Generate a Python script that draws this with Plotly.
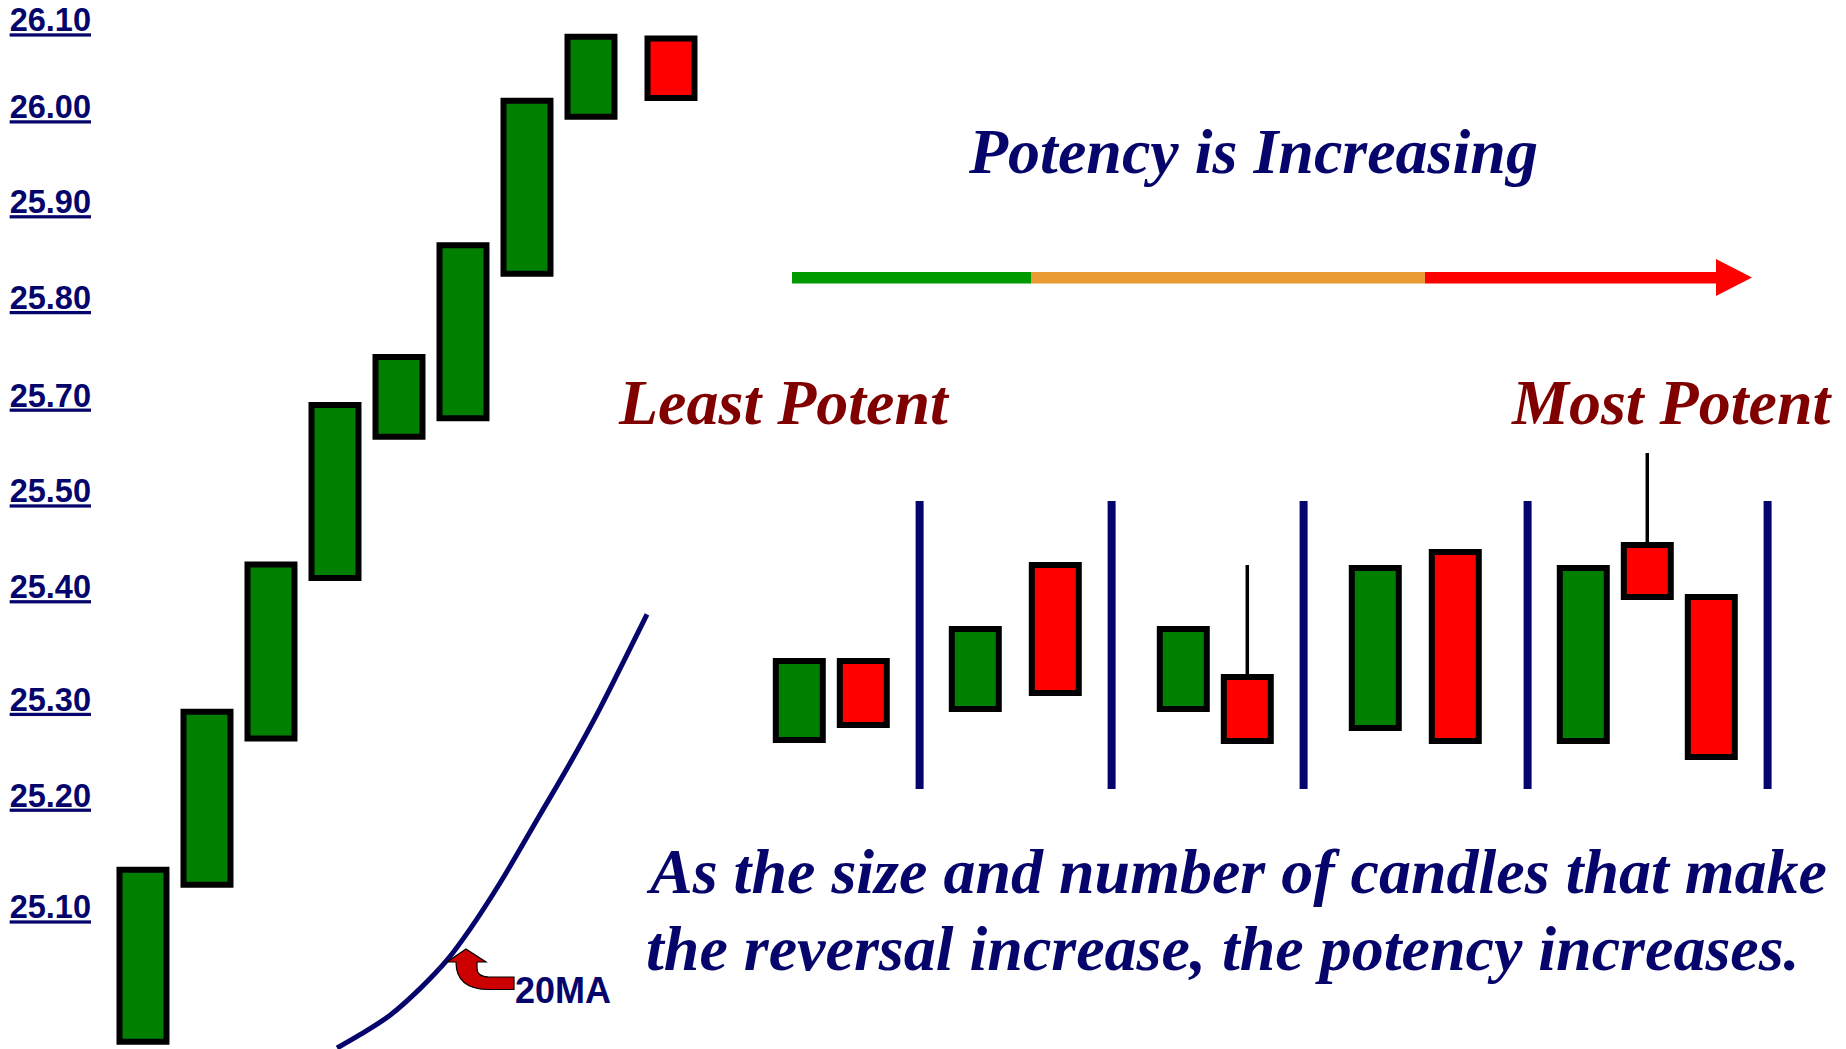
import plotly.graph_objects as go

W, H = 1846, 1049
NAVY = "#05056b"
DARKRED = "#800000"
GREEN = "#007f00"
RED = "#ff0000"

# ---------------- data: left up-trend chart ----------------
trend_x = [1, 2, 3, 4, 5, 6, 7, 8, 9.25]
trend_open = [24.948, 25.125, 25.290, 25.471, 25.630, 25.651, 25.814, 25.991, 26.079]
trend_close = [25.142, 25.320, 25.486, 25.666, 25.720, 25.846, 26.009, 26.081, 26.012]

price_tick_pos = [26.100, 26.002, 25.895, 25.787, 25.677, 25.569, 25.461, 25.334, 25.226, 25.100]
price_tick_text = ["26.10", "26.00", "25.90", "25.80", "25.70", "25.50", "25.40", "25.30", "25.20", "25.10"]

ma_x = [4.032, 4.391, 4.860, 5.329, 5.750, 6.110, 6.578, 7.203, 7.672, 8.141, 8.532, 8.875]
ma_y = [24.941, 24.956, 24.978, 25.008, 25.040, 25.075, 25.127, 25.204, 25.262, 25.324, 25.380, 25.430]

# ---------------- data: reversal examples ----------------
ex_x = [0, 1, 2.75, 4.0, 6.0, 7.0, 9.0, 10.25, 12.25, 13.25, 14.25]
ex_open = [3.09, 3.88, 3.40, 4.84, 3.40, 3.72, 3.21, 4.97, 3.08, 5.04, 4.52]
ex_close = [3.88, 3.24, 4.20, 3.56, 4.20, 3.08, 4.81, 3.08, 4.81, 4.52, 2.92]
ex_high = [3.88, 3.88, 4.20, 4.84, 4.20, 4.84, 4.81, 4.97, 4.81, 5.96, 4.52]

separator_x = [1.88, 4.88, 7.88, 11.38, 15.13]
separator_low, separator_high = 2.60, 5.48


def fill_colors(opens, closes):
    return [GREEN if c >= o else RED for o, c in zip(opens, closes)]


def px(x):
    return x / W


def py(y):
    return 1 - y / H


fig = go.Figure()

# left candles
fig.add_trace(go.Bar(
    x=trend_x, base=trend_open,
    y=[c - o for o, c in zip(trend_open, trend_close)],
    width=0.734,
    marker=dict(color=fill_colors(trend_open, trend_close), line=dict(color="black", width=6)),
    xaxis="x", yaxis="y", hoverinfo="skip",
))

# 20MA line
fig.add_trace(go.Scatter(
    x=ma_x, y=ma_y, mode="lines",
    line=dict(color=NAVY, width=5, shape="spline", smoothing=1.0),
    xaxis="x", yaxis="y", hoverinfo="skip",
))

# separators
sx, sy = [], []
for s in separator_x:
    sx += [s, s, None]
    sy += [separator_low, separator_high, None]
fig.add_trace(go.Scatter(
    x=sx, y=sy, mode="lines", line=dict(color=NAVY, width=8),
    xaxis="x2", yaxis="y2", hoverinfo="skip",
))

# wicks
wx, wy = [], []
for x, o, c, h in zip(ex_x, ex_open, ex_close, ex_high):
    top = max(o, c)
    if h > top:
        wx += [x, x, None]
        wy += [top, h, None]
fig.add_trace(go.Scatter(
    x=wx, y=wy, mode="lines", line=dict(color="black", width=3.5),
    xaxis="x2", yaxis="y2", hoverinfo="skip",
))

# example candles
fig.add_trace(go.Bar(
    x=ex_x, base=ex_open,
    y=[c - o for o, c in zip(ex_open, ex_close)],
    width=0.734,
    marker=dict(color=fill_colors(ex_open, ex_close), line=dict(color="black", width=6)),
    xaxis="x2", yaxis="y2", hoverinfo="skip",
))

# ---------------- decorations ----------------
shapes = []
bar_top, bar_bot = 272, 283.5
for x0, x1, col in [(792, 1031, "#009900"), (1031, 1425, "#e99a33"), (1425, 1718, "#ff0000")]:
    shapes.append(dict(type="rect", xref="paper", yref="paper",
                       x0=px(x0), x1=px(x1), y0=py(bar_bot), y1=py(bar_top),
                       fillcolor=col, line=dict(width=0), layer="above"))
shapes.append(dict(type="path", xref="paper", yref="paper",
                   path=f"M {px(1716)} {py(259)} L {px(1752)} {py(277.5)} L {px(1716)} {py(296)} Z",
                   fillcolor="#ff0000", line=dict(width=0)))

# curved red arrow pointing at the 20MA
pts = ("M {a} {b} L {c} {d} L {e} {d} L {e} {f} Q {e} {g} {h} {g} L {i} {g} L {i} {j} "
       "L {h} {j} Q {k} {j} {k} {d} L {l} {d} Z").format(
    a=px(466), b=py(949), c=px(486), d=py(962), e=px(477), f=py(968), g=py(977),
    h=px(489), i=px(514), j=py(989.5), k=px(456), l=px(447))
shapes.append(dict(type="path", xref="paper", yref="paper", path=pts,
                   fillcolor="#cc0000", line=dict(color="black", width=1.2)))

annotations = [
    dict(text="<b><i>Potency is Increasing</i></b>", x=px(1253), y=py(151),
         font=dict(family="Liberation Serif", size=64, color=NAVY)),
    dict(text="<b><i>Least Potent</i></b>", x=px(616), y=py(402), xanchor="left",
         font=dict(family="Liberation Serif", size=64, color=DARKRED)),
    dict(text="<b><i>Most Potent</i></b>", x=px(1834), y=py(402), xanchor="right",
         font=dict(family="Liberation Serif", size=64, color=DARKRED)),
    dict(text="<b><i>As the size and number of candles that make</i></b>", x=px(644), y=py(871),
         xanchor="left", font=dict(family="Liberation Serif", size=64, color=NAVY)),
    dict(text="<b><i>the reversal increase, the potency increases.</i></b>", x=px(644), y=py(948),
         xanchor="left", font=dict(family="Liberation Serif", size=64, color=NAVY)),
    dict(text="<b>20MA</b>", x=px(513), y=py(990), xanchor="left",
         font=dict(family="Liberation Sans", size=36, color=NAVY)),
]
for a in annotations:
    a.update(xref="paper", yref="paper", showarrow=False, yanchor=a.get("yanchor", "middle"))
    a.setdefault("xanchor", "center")

fig.update_layout(
    width=W, height=H,
    margin=dict(l=0, r=0, t=0, b=0),
    paper_bgcolor="white", plot_bgcolor="rgba(0,0,0,0)",
    showlegend=False, barmode="overlay",
    xaxis=dict(domain=[0, 1], range=[-1.234, 27.609], visible=False, fixedrange=True),
    yaxis=dict(domain=[0, 1], range=[24.9399, 26.1225], anchor="free", position=91 / W,
               tickvals=price_tick_pos, ticktext=[f"<u>{t}</u>" for t in price_tick_text],
               tickfont=dict(family="Liberation Sans", size=32.5, color=NAVY, weight="bold"),
               showgrid=False, zeroline=False, showline=False, ticks="", fixedrange=True),
    xaxis2=dict(domain=[0, 1], range=[-12.489, 16.355], visible=False, anchor="y2", fixedrange=True),
    yaxis2=dict(domain=[0, 1], range=[0, 10.49], visible=False, anchor="x2", fixedrange=True),
    shapes=shapes, annotations=annotations,
)

fig.write_html(
    "out.html",
    config={"displayModeBar": False},
    post_script="document.body.style.margin='0px';document.body.style.overflow='hidden';",
)
